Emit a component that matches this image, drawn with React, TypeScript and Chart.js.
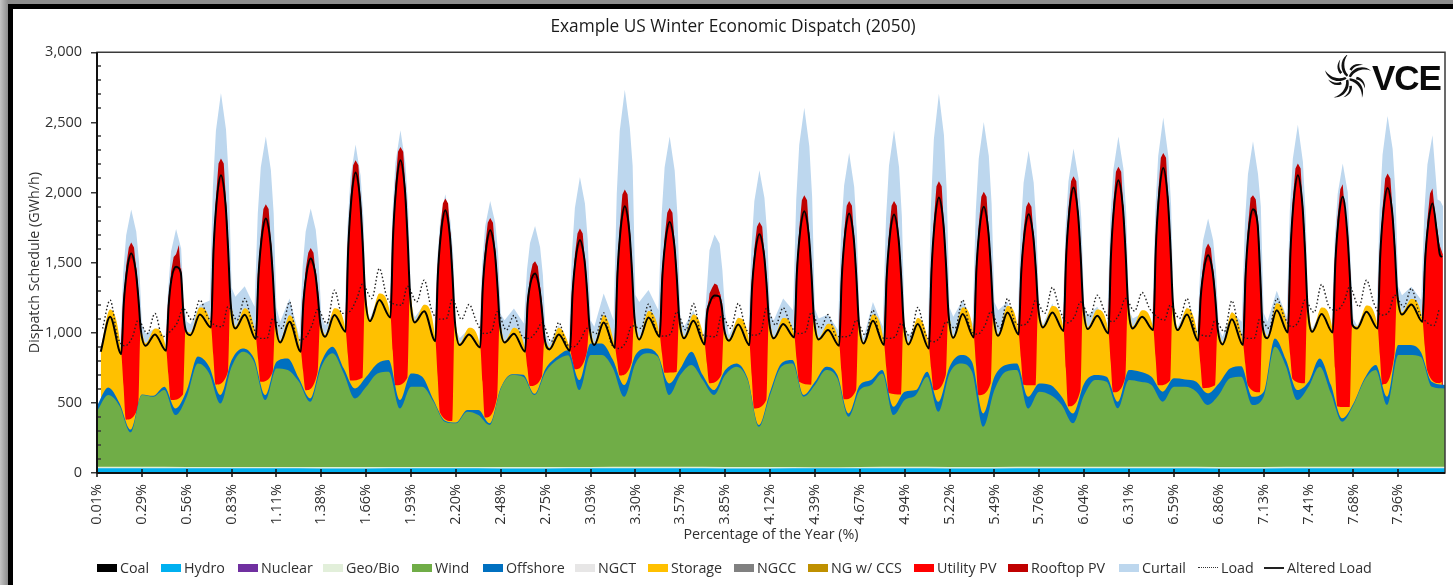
import React, { useEffect, useRef } from "react";
import { Chart, registerables } from "chart.js";

Chart.register(...registerables);

// Tick labels: one per day (24 h) of the 30-day window
const tickLabels = ["0.01%","0.29%","0.56%","0.83%","1.11%","1.38%","1.66%","1.93%","2.20%","2.48%","2.75%","3.03%","3.30%","3.57%","3.85%","4.12%","4.39%","4.67%","4.94%","5.22%","5.49%","5.76%","6.04%","6.31%","6.59%","6.86%","7.13%","7.41%","7.68%","7.96%"];

// Sampling hours inside each day, per read-off curve
const hoursBase = [0];
const hoursWind = [0, 6, 12, 18];
const hoursStorage = [2, 7, 13, 14.2, 15.5, 22, 23.3];
const hoursUtility = [12.7, 14, 15.6, 18.3, 21, 22.4, 23.8];
const hoursRooftop = [12.7, 15.6, 17, 18.3, 19.8, 21.5, 23.8];
const hoursCurtail = [2, 7, 12.3, 14, 15.6, 18.3, 21, 22.5, 24];
const hoursLoad = [3, 7, 11, 15, 19, 22];
const hoursAltered = [2, 7, 13, 14.3, 15.8, 18.3, 20.8, 22.2, 23.4];

// Upper edge of each stacked layer, GWh/h
const hydroTop = [34,34,33,33,33,32,32,33,33,32,32,33,33,33,32,32,33,33,33,32,32,33,33,33,33,32,32,33,33,34];
const geoBioTop = [44,44,43,43,42,42,42,43,43,42,42,43,44,44,43,42,41,43,44,43,43,44,44,44,44,43,43,44,44,45];

const windTop = [
  440,556,480,290, 556,544,592,413, 544,780,710,496, 758,865,793,520, 746,734,650,508,
  758,853,710,532, 615,710,722,460, 615,615,508,365, 354,437,413,342, 603,698,686,556,
  722,805,840,591, 841,841,746,544, 781,853,829,556, 698,770,663,556, 698,758,663,330,
  556,758,781,544, 627,734,675,401, 591,627,710,413, 520,556,686,437, 710,781,722,330,
  591,722,734,460, 580,556,485,354, 556,663,650,461, 663,650,627,508, 615,615,580,485,
  556,675,686,485, 544,900,758,520, 615,758,568,366, 485,663,734,485, 841,841,829,615, 603,
];
const offshoreTop = [
  480,610,500,310, 560,550,615,460, 590,830,758,556, 805,888,817,556, 793,817,675,532,
  793,900,746,603, 686,781,805,520, 710,686,520,375, 360,449,449,354, 610,705,700,565,
  746,829,876,663, 924,924,805,627, 841,888,841,639, 746,865,698,591, 734,781,675,342,
  580,781,805,556, 650,758,698,425, 627,663,734,473, 580,591,722,508, 758,841,793,425,
  686,770,781,544, 639,627,544,425, 639,698,686,508, 734,722,686,580, 675,667,650,568,
  639,746,762,544, 580,959,805,591, 650,817,627,390, 496,675,770,544, 912,912,865,650, 627,
];
const storageTop = [
  880,1165,860,620,380,470,1015,
  925,1030,885,700,520,560,1010,
  1000,1180,1050,840,630,720,1218,
  1045,1175,970,810,650,720,1080,
  945,1125,880,730,590,720,1062,
  985,1175,1020,840,660,680,1264,
  1095,1280,1125,870,625,680,1272,
  1085,1200,955,690,430,370,1075,
  925,1035,905,650,395,540,1065,
  940,1035,880,750,620,690,950,
  895,1035,885,810,740,860,1037,
  925,1125,905,800,695,790,1113,
  965,1155,985,850,715,720,1099,
  975,1130,930,780,640,700,1020,
  955,1105,925,690,460,520,1084,
  970,1105,980,810,650,630,1107,
  965,1065,920,720,525,590,1081,
  935,1130,925,745,570,560,1074,
  930,1105,900,740,590,700,1134,
  975,1180,980,765,555,640,1134,
  990,1190,1000,815,630,625,1173,
  1050,1190,1025,745,475,590,1198,
  1040,1165,1010,790,575,680,1211,
  1045,1160,1030,825,625,660,1217,
  1030,1175,955,775,605,625,1021,
  930,1145,925,775,625,575,1040,
  975,1210,1015,840,670,640,1198,
  1020,1180,1015,745,475,470,1050,
  1045,1195,1045,835,630,850,1282,
  1145,1240,1090,900,730,640,650,
];
const utilityTop = [
  848,1236,1452,1535,1463,1266,847,
  872,1220,1410,1450,1460,1170,923,
  1038,1610,1936,2093,1935,1607,971,
  955,1415,1673,1785,1668,1403,871,
  865,1227,1427,1500,1448,1280,911,
  1007,1604,1945,2112,1960,1642,1023,
  1109,1700,2035,2200,2029,1682,1014,
  940,1437,1717,1844,1712,1423,852,
  895,1343,1594,1701,1601,1361,871,
  865,1230,1380,1393,1330,1160,821,
  872,1296,1532,1630,1540,1316,852,
  893,1427,1730,1872,1742,1457,892,
  971,1410,1656,1760,1654,1405,900,
  917,1168,1245,1240,1290,1210,883,
  912,1337,1575,1673,1584,1361,900,
  967,1446,1716,1836,1713,1439,892,
  907,1408,1691,1820,1695,1417,864,
  912,1407,1687,1813,1688,1410,857,
  888,1456,1779,1934,1794,1494,904,
  967,1462,1742,1868,1744,1468,918,
  988,1446,1704,1815,1714,1471,978,
  1012,1553,1860,2005,1863,1560,966,
  995,1571,1899,2058,1907,1590,971,
  1019,1627,1974,2145,1974,1627,959,
  943,1278,1461,1523,1456,1265,857,
  912,1430,1730,1850,1800,1430,900,
  1002,1592,1929,2093,1930,1595,947,
  1002,1515,1805,1939,1730,1410,971,
  1031,1562,1863,2003,1882,1611,1070,
  1078,1530,1780,1891,1730,1590,1560,
];
const rooftopTop = [
  848,1477,1608,1643,1608,1380,847,
  872,1435,1540,1560,1625,1290,923,
  1038,1961,2207,2242,2207,1830,971,
  955,1698,1882,1917,1882,1560,871,
  865,1452,1570,1605,1570,1350,911,
  1007,1970,2195,2230,2195,1840,1023,
  1109,2060,2290,2325,2290,1900,1014,
  940,1742,1922,1957,1922,1600,852,
  895,1619,1784,1819,1784,1490,871,
  865,1405,1490,1510,1475,1260,821,
  872,1557,1708,1743,1708,1420,852,
  893,1755,1986,2021,1986,1630,892,
  971,1681,1855,1890,1855,1540,900,
  917,1280,1320,1351,1340,1270,883,
  912,1600,1755,1790,1755,1460,900,
  967,1741,1945,1980,1945,1580,892,
  907,1716,1905,1940,1905,1560,864,
  912,1712,1905,1940,1905,1550,857,
  888,1804,2045,2080,2045,1650,904,
  967,1767,1970,2005,1970,1610,918,
  988,1729,1898,1933,1898,1590,978,
  1012,1885,2081,2116,2081,1720,966,
  995,1924,2148,2183,2148,1760,971,
  1019,1999,2247,2282,2247,1810,959,
  943,1486,1601,1636,1601,1370,857,
  912,1755,1960,1980,1950,1700,900,
  1002,1954,2171,2206,2171,1760,947,
  1002,1830,2024,2059,1800,1580,971,
  1031,1888,2100,2135,2100,1760,1070,
  1078,1805,1993,2028,1840,1650,1560,
];
const curtailTop = [
  900,1165,875,1425,1695,1878,1720,1505,1060,
  995,1030,880,1300,1580,1740,1600,1200,1080,
  1060,1200,1230,2040,2440,2710,2450,2100,1320,
  1256,1332,1185,1850,2180,2400,2160,1850,1180,
  1078,1244,970,1475,1720,1886,1735,1530,1120,
  1054,1161,1043,1760,2110,2342,2120,1820,1170,
  1100,1280,1130,1850,2210,2444,2205,1885,1190,
  1110,1204,960,1525,1805,1988,1800,1560,1020,
  960,1030,930,1485,1760,1940,1785,1580,1130,
  1090,1173,1066,1450,1640,1762,1610,1410,990,
  924,1054,880,1560,1890,2111,1920,1660,1090,
  1043,1280,1090,1990,2440,2733,2460,2190,1270,
  1220,1304,1161,1840,2180,2400,2155,1830,1110,
  1043,1161,960,1280,1589,1700,1636,1446,1138,
  980,1114,930,1600,1940,2159,1960,1700,1130,
  1090,1244,1161,1950,2340,2605,2330,1970,1170,
  1102,1130,1019,1720,2050,2282,2040,1700,1030,
  960,1220,1043,1810,2190,2444,2180,1830,1050,
  983,1066,900,1890,2380,2705,2410,2010,1180,
  1114,1233,1066,1860,2240,2503,2260,1920,1220,
  1161,1220,1020,1720,2070,2297,2070,1760,1120,
  1060,1209,1030,1740,2080,2313,2100,1810,1190,
  1126,1185,1066,1800,2160,2400,2170,1850,1160,
  1102,1138,1035,1860,2260,2534,2260,1910,1100,
  1040,1185,960,1430,1660,1815,1660,1450,1030,
  971,1150,1078,1790,2130,2365,2130,1900,1140,
  1078,1299,1114,1870,2240,2484,2220,1840,1090,
  1030,1161,1020,1670,1990,2206,2000,1500,1100,
  1050,1185,1045,1870,2270,2546,2310,2000,1330,
  1268,1328,1233,1880,2200,2408,1950,1940,1900,
];
const loadLine = [
  1030,1233,971,907,971,1090,
  995,1138,971,1007,1073,1173,
  1090,1233,1119,1054,1043,1185,
  1090,1244,1066,960,960,1102,
  1031,1220,948,960,1054,1166,
  1066,1304,1138,1150,1244,1347,
  1244,1458,1256,1204,1197,1332,
  1220,1375,1161,1097,1102,1240,
  1095,1202,1078,995,1007,1150,
  1019,1123,983,960,1007,1071,
  936,1073,924,900,960,1031,
  995,1142,924,888,936,1050,
  1031,1204,1019,976,995,1150,
  1019,1209,995,976,971,1126,
  1031,1209,1031,983,1000,1173,
  1054,1178,1054,995,1007,1145,
  1031,1130,983,971,983,1090,
  983,1161,971,960,971,1066,
  971,1180,995,936,971,1078,
  1031,1233,1031,990,1054,1150,
  1031,1244,1078,1054,1102,1233,
  1138,1323,1161,1071,1119,1220,
  1114,1268,1150,1078,1138,1244,
  1154,1287,1173,1114,1090,1197,
  1102,1244,1031,983,976,1090,
  1007,1228,1019,960,960,1102,
  1031,1244,1114,1043,1090,1233,
  1145,1344,1185,1161,1221,1328,
  1185,1375,1209,1126,1150,1268,
  1185,1316,1150,1078,1050,1173,
];
const alteredLoadLine = [
  865,1114,848,1206,1422,1565,1433,1236,1025,
  907,988,872,1190,1380,1470,1430,1140,1020,
  983,1130,1038,1580,1906,2123,1905,1577,1228,
  1031,1128,955,1385,1643,1815,1638,1373,1090,
  931,1078,865,1197,1397,1530,1418,1250,1072,
  971,1126,1007,1574,1915,2142,1930,1612,1274,
  1083,1233,1109,1670,2005,2230,1999,1652,1282,
  1074,1154,940,1407,1687,1874,1682,1393,1085,
  912,988,895,1313,1564,1731,1571,1331,1075,
  931,993,865,1200,1350,1423,1300,1130,960,
  881,988,872,1266,1502,1660,1510,1286,1047,
  912,1074,893,1397,1700,1902,1712,1427,1123,
  952,1109,971,1380,1626,1790,1624,1375,1109,
  960,1085,917,1138,1215,1265,1260,1180,1030,
  943,1059,912,1307,1545,1703,1554,1331,1094,
  960,1062,967,1416,1686,1866,1683,1409,1117,
  952,1019,907,1378,1661,1850,1665,1387,1091,
  924,1085,912,1377,1657,1843,1658,1380,1084,
  917,1062,888,1426,1749,1964,1764,1464,1144,
  964,1133,967,1432,1712,1898,1714,1438,1144,
  978,1145,988,1416,1674,1845,1684,1441,1183,
  1038,1145,1012,1523,1830,2035,1833,1530,1208,
  1026,1121,995,1541,1869,2088,1877,1560,1221,
  1031,1114,1019,1597,1944,2175,1944,1597,1227,
  1019,1130,943,1248,1431,1553,1426,1235,1031,
  917,1097,912,1400,1700,1880,1770,1400,1050,
  960,1161,1002,1562,1899,2123,1900,1565,1208,
  1007,1133,1002,1485,1775,1969,1700,1380,1060,
  1031,1149,1031,1532,1833,2033,1852,1581,1292,
  1130,1202,1078,1500,1750,1921,1700,1560,1540,
];

// Legend: name, colour and box / line kind, in reference order
const legendNames = ["Coal","Hydro","Nuclear","Geo/Bio","Wind","Offshore","NGCT","Storage","NGCC","NG w/ CCS","Utility PV","Rooftop PV","Curtail","Load","Altered Load"];
const legendColors = ["#000000","#00B0F0","#7030A0","#E2EFDA","#70AD47","#0070C0","#E7E6E6","#FFC000","#808080","#BF9000","#FF0000","#C00000","#BDD7EE","#333333","#222222"];
const legendLeft = [97,161,238,323,412,483,575,648,734,808,914,1008,1119,1198,1264];

const font = "'Open Sans', sans-serif";
const textColor = "#303030";
const axisColor = "#3a3a3a";
const LAST_HOUR = 721;

// pairs each value with its hour: the value list walks through days, and within a day through `hours`
function points(values: number[], hours: number[]) {
  return values.map((y, i) => ({
    x: Math.floor(i / hours.length) * 24 + hours[i % hours.length],
    y,
  }));
}

function area(label: string, color: string, data: { x: number; y: number }[], order: number, smooth = true) {
  return {
    label,
    data,
    order,
    backgroundColor: color,
    borderWidth: 0,
    borderColor: color,
    fill: "origin",
    pointRadius: 0,
    cubicInterpolationMode: smooth ? "monotone" : "default",
    tension: 0,
  };
}

const framePlugin = {
  id: "frame",
  afterDatasetsDraw(chart: any) {
    const { ctx, chartArea: a, scales } = chart;
    ctx.save();
    ctx.strokeStyle = axisColor;
    ctx.lineWidth = 1.5;
    ctx.strokeRect(a.left, a.top, a.right - a.left, a.bottom - a.top);
    for (let v = 100; v < 3000; v += 100) {
      if (v % 500 === 0) continue;
      const y = Math.round(scales.y.getPixelForValue(v));
      ctx.beginPath();
      ctx.moveTo(a.left, y);
      ctx.lineTo(a.left + 4, y);
      ctx.stroke();
    }
    ctx.strokeStyle = "#111";
    ctx.lineWidth = 2;
    ctx.beginPath();
    ctx.moveTo(a.left, a.bottom);
    ctx.lineTo(a.right, a.bottom);
    ctx.moveTo(a.left, a.top);
    ctx.lineTo(a.left, a.bottom);
    ctx.stroke();
    ctx.lineWidth = 1.5;
    for (const t of scales.x.ticks) {
      const x = Math.round(scales.x.getPixelForValue(t.value));
      ctx.beginPath();
      ctx.moveTo(x, a.bottom - 4);
      ctx.lineTo(x, a.bottom + 4);
      ctx.stroke();
    }
    ctx.restore();
  },
};

function Swirl() {
  const arm = "M1 -2 C 6 -15 22 -19 32 -10 C 22 -14 10 -11 4 -1 Z";
  const arm2 = "M3 -6 C 7 -13 15 -15 22 -12 C 15 -12 9 -10 6 -4 Z";
  const angles = [0, 72, 144, 216, 288];
  return (
    <svg width={46} height={46} viewBox="-23 -23 46 46" style={{ position: "absolute", left: 1325, top: 55 }}>
      {angles.map((a) => (
        <g key={a} transform={`rotate(${a}) scale(0.72)`}>
          <path d={arm} fill="#111" />
          <path d={arm2} fill="#111" transform="translate(-1,-6)" />
        </g>
      ))}
    </svg>
  );
}

export default function App() {
  const ref = useRef<HTMLCanvasElement | null>(null);

  useEffect(() => {
    const base = (vals: number[]) => [...points(vals, hoursBase), { x: LAST_HOUR, y: vals[vals.length - 1] }];
    const chart = new Chart(ref.current as HTMLCanvasElement, {
      type: "line",
      data: {
        datasets: [
          area("Hydro", "#00B0F0", base(hydroTop), 2),
          area("Geo/Bio", "#E2EFDA", base(geoBioTop), 3),
          area("Wind", "#70AD47", points(windTop.slice(0, 120), hoursWind).concat({ x: LAST_HOUR, y: windTop[120] }), 4),
          area("Offshore", "#0070C0", points(offshoreTop.slice(0, 120), hoursWind).concat({ x: LAST_HOUR, y: offshoreTop[120] }), 5),
          area("Storage", "#FFC000", points(storageTop, hoursStorage), 6),
          area("Utility PV", "#FF0000", points(utilityTop, hoursUtility), 7, false),
          area("Rooftop PV", "#C00000", points(rooftopTop, hoursRooftop), 8, false),
          area("Curtail", "#BDD7EE", points(curtailTop, hoursCurtail), 9, false),
          {
            label: "Load",
            data: points(loadLine, hoursLoad),
            order: 1,
            borderColor: "#222",
            borderWidth: 1.4,
            borderDash: [1.5, 2.2],
            fill: false,
            pointRadius: 0,
            cubicInterpolationMode: "monotone",
          },
          {
            label: "Altered Load",
            data: points(alteredLoadLine, hoursAltered),
            order: 0,
            borderColor: "#000",
            borderWidth: 2,
            fill: false,
            pointRadius: 0,
            cubicInterpolationMode: "monotone",
          },
        ] as any,
      },
      options: {
        responsive: false,
        animation: false,
        layout: { padding: { left: 21, right: 8, top: 0, bottom: 41 } },
        plugins: {
          legend: { display: false },
          tooltip: { enabled: false },
          title: {
            display: true,
            text: "Example US Winter Economic Dispatch (2050)",
            color: "#1a1a1a",
            font: { family: font, size: 17.3, weight: "normal" },
            padding: { top: 16.5, bottom: 15 },
          },
        },
        scales: {
          x: {
            type: "linear",
            min: 0,
            max: LAST_HOUR,
            afterFit: (s: any) => { s.height = 71; },
            title: {
              display: true,
              text: "Percentage of the Year (%)",
              color: textColor,
              font: { family: font, size: 14.3 },
              padding: { top: 0, bottom: 0 },
            },
            grid: { display: true, drawOnChartArea: false, drawTicks: false },
            border: { display: false },
            ticks: {
              stepSize: 24,
              includeBounds: false,
              autoSkip: false,
              minRotation: 90,
              maxRotation: 90,
              padding: 11,
              color: textColor,
              font: { family: font, size: 14.5 },
              callback: (_v: any, i: number) => tickLabels[i],
            },
          },
          y: {
            min: 0,
            max: 3000,
            afterFit: (s: any) => { s.width = 76; },
            title: {
              display: true,
              text: "Dispatch Schedule (GWh/h)",
              color: textColor,
              font: { family: font, size: 14.3 },
              padding: { top: 5, bottom: 0 },
            },
            grid: { display: true, drawOnChartArea: false, tickLength: 6, color: axisColor, lineWidth: 1.5 },
            border: { display: false },
            ticks: {
              stepSize: 500,
              padding: 9,
              color: textColor,
              font: { family: font, size: 14.5 },
              callback: (v: any) => Number(v).toLocaleString("en-US"),
            },
          },
        },
      },
      plugins: [framePlugin],
    } as any);
    return () => chart.destroy();
  }, []);

  return (
    <div style={{ position: "fixed", left: 0, top: 0, width: 1453, height: 585, overflow: "hidden", background: "linear-gradient(90deg,#c4c4c4,#8d8d8d 8px)" }}>
      <div style={{ position: "absolute", left: 8, top: 4, right: 0, bottom: 0, background: "#fff", borderLeft: "5px solid #000", borderTop: "5px solid #000" }} />
      <canvas ref={ref} width={1453} height={585} style={{ position: "absolute", left: 0, top: 0, display: "block" }} />
      <Swirl />
      <div style={{ position: "absolute", left: 1372, top: 56, fontFamily: "'Liberation Sans', sans-serif", fontWeight: 700, fontSize: 35, lineHeight: "44px", letterSpacing: -1, color: "#0a0a0a" }}>VCE</div>
      {legendNames.map((name, i) => {
        const isLoad = name === "Load";
        const isAltered = name === "Altered Load";
        const left = legendLeft[i];
        return (
          <React.Fragment key={name}>
            <span
              style={{
                position: "absolute",
                left,
                width: 20,
                top: isLoad || isAltered ? 567 : 564,
                height: isLoad || isAltered ? 0 : 8,
                background: isLoad || isAltered ? "transparent" : legendColors[i],
                borderTop: isLoad ? `1.5px dotted ${legendColors[i]}` : isAltered ? `2px solid ${legendColors[i]}` : "none",
              }}
            />
            <span style={{ position: "absolute", left: left + 23, top: 558, fontFamily: font, fontSize: 14.3, lineHeight: "20px", color: textColor, whiteSpace: "nowrap" }}>{name}</span>
          </React.Fragment>
        );
      })}
    </div>
  );
}
